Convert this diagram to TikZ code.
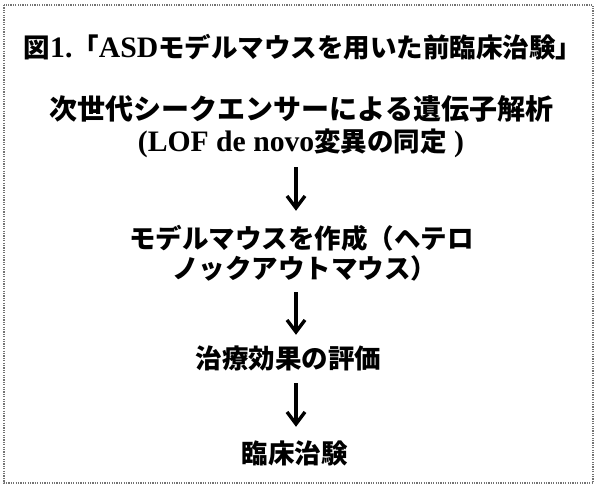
\documentclass[tikz,border=0pt]{standalone}
\usepackage{fontspec}
\newfontfamily\cjk{Noto Sans CJK JP}
\newfontfamily\serifl[Scale=1.12]{Liberation Serif}
\newcommand\mylat[1]{{\serifl\bfseries #1}}
\usetikzlibrary{arrows.meta}
\begin{document}
\begin{tikzpicture}[x=1pt,y=-1pt,
  txt/.style={inner sep=0pt,text height=23.3pt,text depth=3.2pt,font=\cjk\bfseries\fontsize{26.5}{30}\selectfont},
  arr/.style={line width=3.4pt,-{Straight Barb[length=12pt,width=18pt,line width=3.4pt]}},
  frame/.style={draw=black!55,line width=1.3pt,dash pattern=on 1.3pt off 1.1pt}]
\useasboundingbox (0,0) rectangle (600,492);
\draw[frame] (4,5) rectangle (593,483);
\node[txt] (title) at (303,47) {図\mylat{1.}「\mylat{ASD}モデルマウスを用いた前臨床治験」};
\node[txt,font=\cjk\bfseries\fontsize{28}{30}\selectfont,text height=24.6pt,text depth=3.4pt] (s1a) at (301.5,109) {次世代シークエンサーによる遺伝子解析};
\node[txt] (s1b) at (301,141) {\mylat{(LOF de novo}変異の同定\mylat{ )}};
\node[txt] (s2a) at (301.5,238) {モデルマウスを作成（ヘテロ};
\node[txt] (s2b) at (305,268) {ノックアウトマウス）};
\node[txt] (s3) at (288.5,358) {治療効果の評価};
\node[txt] (s4) at (294.5,453) {臨床治験};
\coordinate (ax) at (296,0);
\draw[arr,shorten <=12.75pt,shorten >=13.75pt] (s1b.south -| ax) -- (s2a.north -| ax);
\draw[arr,shorten <=10.75pt,shorten >=9.75pt] (s2b.south -| ax) -- (s3.north -| ax);
\draw[arr,shorten <=11.75pt,shorten >=12.75pt] (s3.south -| ax) -- (s4.north -| ax);
\end{tikzpicture}
\end{document}
